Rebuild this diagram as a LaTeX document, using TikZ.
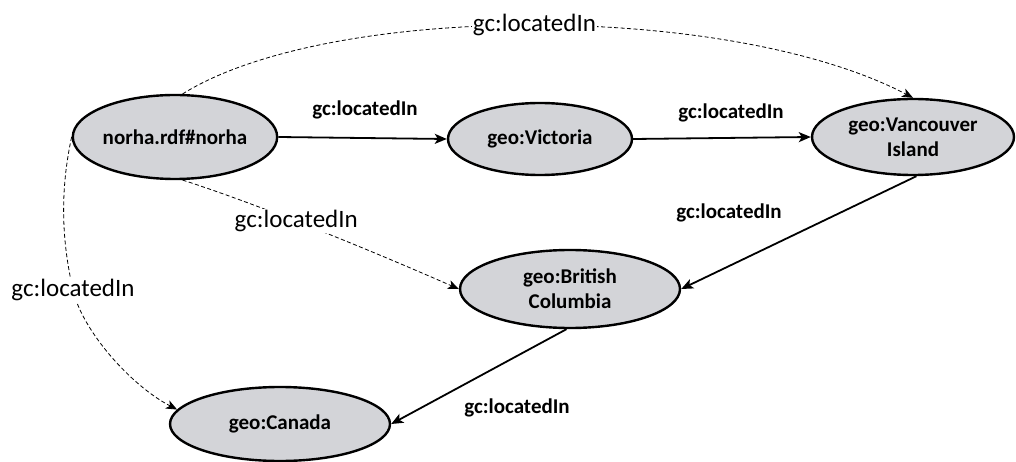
\documentclass[tikz,border=0pt]{standalone}
\usepackage{fontspec}
\setmainfont{Carlito}
\usetikzlibrary{shapes.geometric,arrows.meta}
\definecolor{nodegray}{RGB}{211,212,216}
\begin{document}
\begin{tikzpicture}[x=1pt,y=-1pt,
  place/.style={ellipse,draw,line width=2.4pt,fill=nodegray,inner sep=0pt,
    font=\fontsize{21}{25}\selectfont\bfseries,align=center},
  link/.style={line width=1.8pt,-{Stealth[length=12pt,width=10pt,inset=3pt]}},
  infer/.style={line width=0.8pt,dash pattern=on 4pt off 2.5pt,
    -{Stealth[length=11pt,width=9pt,inset=3pt]}},
  boldlabel/.style={font=\fontsize{21}{25}\selectfont\bfseries},
  plainlabel/.style={font=\fontsize{25}{30}\selectfont,fill=white,inner sep=1pt}]
\useasboundingbox (0,0) rectangle (1016,462);

% resources
\node[place,minimum width=204pt,minimum height=84pt] (norha) at (175,137) {norha.rdf\#norha};
\node[place,minimum width=184pt,minimum height=72pt] (victoria) at (540,139) {geo:Victoria};
\node[place,minimum width=202pt,minimum height=76pt] (island) at (913,137) {geo:Vancouver\\Island};
\node[place,minimum width=220pt,minimum height=78pt] (bc) at (570,289) {geo:British\\Columbia};
\node[place,minimum width=220pt,minimum height=74pt] (canada) at (280,424) {geo:Canada};

% asserted statements
\draw[link] (norha.east) -- (victoria.west);
\draw[link] (victoria.east) -- (island.west);
\draw[link] (island.-85) -- (bc.east);
\draw[link] (bc.-95) -- (canada.east);

\node[boldlabel] (l1) at (365,110) {gc:locatedIn};
\node[boldlabel] (l2) at (731,113) {gc:locatedIn};
\node[boldlabel] (l3) at (729,213) {gc:locatedIn};
\node[boldlabel] (l4) at (517,408) {gc:locatedIn};

% inferred statements
\draw[infer] (norha.80) .. controls (330,2) and (730,2) .. node[plainlabel]{gc:locatedIn} (island.north);
\draw[infer] (norha.-80) .. controls (260,205) and (370,250) .. node[plainlabel,pos=0.43]{gc:locatedIn} (bc.west);
\draw[infer] (norha.west) .. controls (58,200) and (64,250) .. (73,290)
  node[plainlabel]{gc:locatedIn}
  .. controls (82,330) and (130,385) .. (canada.172);
\end{tikzpicture}
\end{document}
